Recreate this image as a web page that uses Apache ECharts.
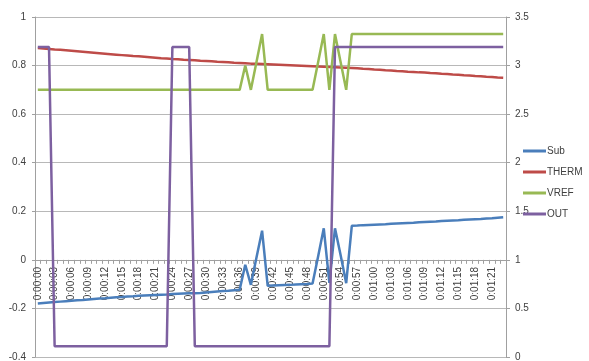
<!DOCTYPE html>
<html>
<head>
<meta charset="utf-8">
<script src="https://cdn.jsdelivr.net/npm/echarts@6/dist/echarts.min.js"></script>
<style>html,body{margin:0;padding:0;background:#fff}#c{width:589px;height:361px}</style>
</head>
<body>
<div id="c"></div>
<script>
var categories = [
"0:00:00","0:00:01","0:00:02","0:00:03","0:00:04","0:00:05","0:00:06","0:00:07","0:00:08","0:00:09",
"0:00:10","0:00:11","0:00:12","0:00:13","0:00:14","0:00:15","0:00:16","0:00:17","0:00:18","0:00:19",
"0:00:20","0:00:21","0:00:22","0:00:23","0:00:24","0:00:25","0:00:26","0:00:27","0:00:28","0:00:29",
"0:00:30","0:00:31","0:00:32","0:00:33","0:00:34","0:00:35","0:00:36","0:00:37","0:00:38","0:00:39",
"0:00:40","0:00:41","0:00:42","0:00:43","0:00:44","0:00:45","0:00:46","0:00:47","0:00:48","0:00:49",
"0:00:50","0:00:51","0:00:52","0:00:53","0:00:54","0:00:55","0:00:56","0:00:57","0:00:58","0:00:59",
"0:01:00","0:01:01","0:01:02","0:01:03","0:01:04","0:01:05","0:01:06","0:01:07","0:01:08","0:01:09",
"0:01:10","0:01:11","0:01:12","0:01:13","0:01:14","0:01:15","0:01:16","0:01:17","0:01:18","0:01:19",
"0:01:20","0:01:21","0:01:22","0:01:23"];

var subValues = [
-0.180,-0.178,-0.176,-0.174,-0.172,-0.170,-0.168,-0.166,-0.165,-0.163,
-0.161,-0.159,-0.158,-0.156,-0.154,-0.153,-0.151,-0.150,-0.148,-0.147,
-0.146,-0.145,-0.144,-0.143,-0.141,-0.140,-0.139,-0.138,-0.137,-0.136,
-0.134,-0.132,-0.130,-0.128,-0.127,-0.125,-0.123,-0.020,-0.103,0.010,
0.120,-0.107,-0.106,-0.105,-0.104,-0.103,-0.101,-0.100,-0.099,-0.097,
0.015,0.130,-0.095,0.130,0.020,-0.096,0.140,0.141,0.143,0.144,
0.145,0.146,0.147,0.149,0.150,0.151,0.152,0.153,0.155,0.156,
0.157,0.158,0.160,0.161,0.162,0.163,0.165,0.166,0.167,0.168,
0.170,0.171,0.173,0.175];

var thermValues = [
0.872,0.870,0.868,0.866,0.865,0.863,0.861,0.859,0.857,0.855,
0.853,0.851,0.849,0.847,0.845,0.843,0.841,0.839,0.838,0.836,
0.834,0.832,0.830,0.829,0.827,0.826,0.824,0.823,0.822,0.820,
0.819,0.818,0.816,0.815,0.814,0.812,0.811,0.810,0.808,0.807,
0.806,0.805,0.804,0.803,0.802,0.801,0.800,0.799,0.798,0.797,
0.796,0.795,0.794,0.793,0.792,0.791,0.790,0.789,0.787,0.786,
0.784,0.783,0.781,0.780,0.778,0.777,0.775,0.774,0.772,0.771,
0.769,0.768,0.766,0.765,0.763,0.762,0.760,0.759,0.757,0.756,
0.754,0.753,0.751,0.750];

var vrefValues = [
0.70,0.70,0.70,0.70,0.70,0.70,0.70,0.70,0.70,0.70,
0.70,0.70,0.70,0.70,0.70,0.70,0.70,0.70,0.70,0.70,
0.70,0.70,0.70,0.70,0.70,0.70,0.70,0.70,0.70,0.70,
0.70,0.70,0.70,0.70,0.70,0.70,0.70,0.80,0.70,0.815,
0.93,0.70,0.70,0.70,0.70,0.70,0.70,0.70,0.70,0.70,
0.815,0.93,0.70,0.93,0.815,0.70,0.93,0.93,0.93,0.93,
0.93,0.93,0.93,0.93,0.93,0.93,0.93,0.93,0.93,0.93,
0.93,0.93,0.93,0.93,0.93,0.93,0.93,0.93,0.93,0.93,
0.93,0.93,0.93,0.93];

var outValues = [
3.19,3.19,3.19,0.11,0.11,0.11,0.11,0.11,0.11,0.11,
0.11,0.11,0.11,0.11,0.11,0.11,0.11,0.11,0.11,0.11,
0.11,0.11,0.11,0.11,3.19,3.19,3.19,3.19,0.11,0.11,
0.11,0.11,0.11,0.11,0.11,0.11,0.11,0.11,0.11,0.11,
0.11,0.11,0.11,0.11,0.11,0.11,0.11,0.11,0.11,0.11,
0.11,0.11,0.11,3.19,3.19,3.19,3.19,3.19,3.19,3.19,
3.19,3.19,3.19,3.19,3.19,3.19,3.19,3.19,3.19,3.19,
3.19,3.19,3.19,3.19,3.19,3.19,3.19,3.19,3.19,3.19,
3.19,3.19,3.19,3.19];

var seriesNames = ["Sub","THERM","VREF","OUT"];
var seriesColors = ["#4A7EBB","#BE4B48","#98B954","#7D60A0"];

var chart = echarts.init(document.getElementById('c'), null, {renderer:'canvas'});
var font = "'Liberation Sans', Arial, sans-serif";
var lbl = {color:'#404040', fontFamily:font, fontSize:10};

var gridTop = 17, gridBottomPx = 357;
var leftMin = -0.4, leftMax = 1;
// pixel offset that moves the category axis up onto the value 0 of the left axis
var zeroOffset = -(gridBottomPx - (gridTop + (gridBottomPx - gridTop) * (leftMax - 0) / (leftMax - leftMin)));

function mk(name, idx, data, yIdx){
  return {
    name:name, type:'line', yAxisIndex:yIdx, data:data,
    showSymbol:false, symbol:'none', smooth:false, animation:false,
    lineStyle:{color:seriesColors[idx], width:2.5},
    itemStyle:{color:seriesColors[idx]},
    z: 2 + idx
  };
}

chart.setOption({
  backgroundColor:'#fff',
  animation:false,
  grid:{left:35, right:83, top:gridTop, bottom:361 - gridBottomPx, containLabel:false, outerBoundsMode:'none'},
  legend:{
    orient:'vertical', left:523, top:144, padding:0,
    icon:'rect', itemWidth:23, itemHeight:3, itemGap:7,
    textStyle:{color:'#404040', fontFamily:font, fontSize:10, lineHeight:14, padding:[0,0,0,-4]},
    data:seriesNames
  },
  xAxis:{
    type:'category', data:categories, boundaryGap:true, position:'bottom', offset:zeroOffset,
    axisLine:{show:true, onZero:false, lineStyle:{color:'#a0a0a0', width:1}},
    axisTick:{show:true, interval:0, alignWithLabel:false, length:4, lineStyle:{color:'#a0a0a0'}},
    axisLabel:{interval:2, rotate:90, margin:7, hideOverlap:false, color:'#404040', fontFamily:font, fontSize:10},
    splitLine:{show:false}
  },
  yAxis:[
    {type:'value', min:leftMin, max:leftMax, interval:0.2, position:'left',
     axisLine:{show:true, lineStyle:{color:'#a0a0a0'}},
     axisTick:{show:true, length:3, lineStyle:{color:'#a0a0a0'}},
     axisLabel:Object.assign({margin:9}, lbl),
     splitLine:{show:true, lineStyle:{color:'#b8b8b8', width:1}}},
    {type:'value', min:0, max:3.5, interval:0.5, position:'right',
     axisLine:{show:true, lineStyle:{color:'#a0a0a0'}},
     axisTick:{show:true, length:4, lineStyle:{color:'#a0a0a0'}},
     axisLabel:Object.assign({margin:9}, lbl),
     splitLine:{show:false}}
  ],
  series:[
    mk("Sub",0,subValues,0),
    mk("THERM",1,thermValues,0),
    mk("VREF",2,vrefValues,0),
    mk("OUT",3,outValues,1)
  ]
});
</script>
</body>
</html>
